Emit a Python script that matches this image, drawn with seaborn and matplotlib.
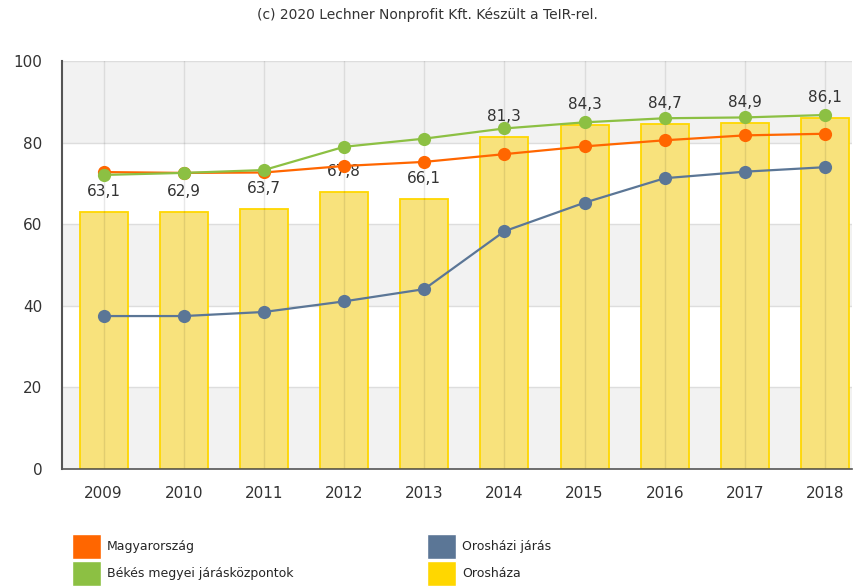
import numpy as np
import pandas as pd
import matplotlib
matplotlib.use("Agg")
import matplotlib.pyplot as plt
import seaborn as sns
from matplotlib.patches import Patch

# data
years = ["2009", "2010", "2011", "2012", "2013", "2014", "2015", "2016", "2017", "2018"]
oroshaza = [63.1, 62.9, 63.7, 67.8, 66.1, 81.3, 84.3, 84.7, 84.9, 86.1]
magyarorszag = [72.8, 72.6, 72.7, 74.3, 75.3, 77.2, 79.1, 80.6, 81.8, 82.2]
bekes = [72.1, 72.6, 73.3, 79.0, 81.0, 83.5, 85.0, 86.0, 86.2, 86.8]
oroshazi_jaras = [37.5, 37.5, 38.5, 41.1, 44.1, 58.3, 65.3, 71.3, 72.9, 74.0]
y_ticks = [0, 20, 40, 60, 80, 100]

c_orange = "#FF6600"
c_green = "#8CC043"
c_blue = "#5B7696"
c_yellow = "#FFD700"

sns.set_style("white")
plt.rcParams["font.family"] = ["DejaVu Sans"]

fig = plt.figure(figsize=(8.54, 5.88), dpi=100)
ax = fig.add_axes([0.0726, 0.2024, 0.9254, 0.6936])

df = pd.DataFrame({"year": years, "val": oroshaza})
sns.barplot(data=df, x="year", y="val", ax=ax, color="#F8E27C",
            width=0.6, saturation=1, zorder=2)
for p in ax.containers[0]:
    p.set_edgecolor(c_yellow)
    p.set_linewidth(1.3)

# alternating background bands
for lo in (0, 40, 80):
    ax.axhspan(lo, lo + 20, facecolor="#F2F2F2", edgecolor="none", zorder=0)

pos = np.arange(len(years))
for yv in y_ticks[1:]:
    ax.axhline(yv, color="#DDDDDD", lw=1, zorder=1)
for x in pos:
    ax.axvline(x, color=(0, 0, 0, 0.09), lw=1, zorder=2.5)

# bar value labels
for x, v in zip(pos, oroshaza):
    ax.text(x, v + 3.2, f"{v:.1f}".replace(".", ","), ha="center", va="bottom",
            fontsize=11, color="#333333", zorder=3)

lines = pd.DataFrame({"pos": pos, "m": magyarorszag, "b": bekes, "o": oroshazi_jaras})
for col, c, z in [("o", c_blue, 4), ("m", c_orange, 5), ("b", c_green, 6)]:
    sns.lineplot(data=lines, x="pos", y=col, ax=ax, color=c, lw=1.6, marker="o",
                 markersize=9.5, markeredgewidth=0, zorder=z)

ax.set_xlim(-0.52, 9.34)
ax.set_ylim(0, 100)
ax.set_yticks(y_ticks)
ax.set_xticks(pos)
ax.set_xticklabels(years)
ax.set_xlabel("")
ax.set_ylabel("")
ax.tick_params(axis="both", labelsize=11, colors="#333333", length=0)
ax.tick_params(axis="x", pad=12)
ax.tick_params(axis="y", pad=14)
for s in ("top", "right"):
    ax.spines[s].set_visible(False)
ax.spines["left"].set_color("#555555")
ax.spines["left"].set_linewidth(1.5)
ax.spines["bottom"].set_color("#555555")
ax.spines["bottom"].set_linewidth(1.2)

fig.text(0.5, 0.975, "(c) 2020 Lechner Nonprofit Kft. Készült a TeIR-rel.",
         ha="center", va="center", fontsize=10, color="#333333")

leg_kw = dict(loc="upper left", frameon=False, fontsize=9, handlelength=2.3,
              handleheight=2.7, handletextpad=0.5, labelspacing=0.12,
              borderpad=0, borderaxespad=0)
fig.legend([Patch(facecolor=c_orange), Patch(facecolor=c_green)],
           ["Magyarország", "Békés megyei járásközpontok"],
           bbox_to_anchor=(72 / 854, 1 - 534 / 588), **leg_kw)
fig.legend([Patch(facecolor=c_blue), Patch(facecolor=c_yellow)],
           ["Orosházi járás", "Orosháza"],
           bbox_to_anchor=(427 / 854, 1 - 534 / 588), **leg_kw)

fig.savefig("out.png", dpi=100)
